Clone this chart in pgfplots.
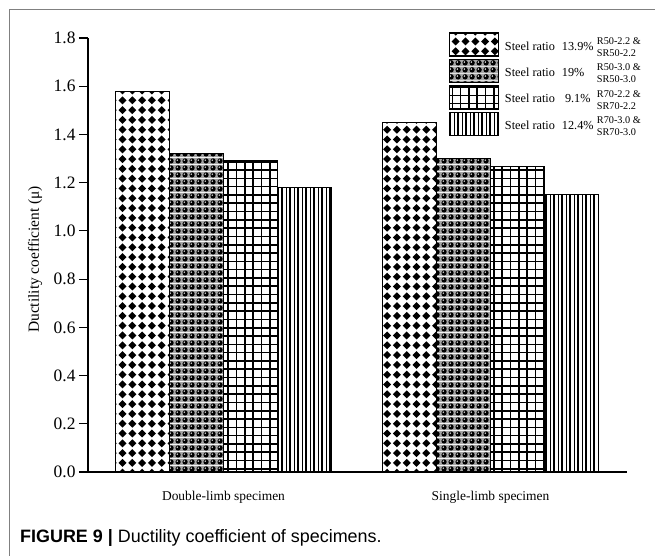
\documentclass[border=0pt]{standalone}
\usepackage{fontspec}
\setmainfont{Liberation Serif}
\newfontfamily\capfont{Liberation Sans}
\usepackage{pgfplots}
\pgfplotsset{compat=1.18}
\usetikzlibrary{patterns}

\pgfdeclarepatternformonly{mydiamonds}{\pgfpoint{-1bp}{-1bp}}{\pgfpoint{10.8bp}{10.8bp}}{\pgfpoint{9.8bp}{9.8bp}}{%
  \pgfpathmoveto{\pgfpoint{4.9bp}{0.9bp}}%
  \pgfpathlineto{\pgfpoint{8.9bp}{4.9bp}}%
  \pgfpathlineto{\pgfpoint{4.9bp}{8.9bp}}%
  \pgfpathlineto{\pgfpoint{0.9bp}{4.9bp}}%
  \pgfpathclose
  \pgfusepath{fill}%
}
\pgfdeclarepatterninherentlycolored{myballs}{\pgfpointorigin}{\pgfpoint{7bp}{7bp}}{\pgfpoint{7bp}{7bp}}{%
  \pgfsetfillcolor{black!35}%
  \pgfpathrectangle{\pgfpointorigin}{\pgfpoint{7bp}{7bp}}%
  \pgfusepath{fill}%
  \pgfsetfillcolor{black}%
  \pgfpathcircle{\pgfpoint{3.5bp}{3.5bp}}{3.0bp}%
  \pgfusepath{fill}%
  \pgfsetfillcolor{white}%
  \pgfpathcircle{\pgfpoint{2.6bp}{4.4bp}}{0.9bp}%
  \pgfusepath{fill}%
}
\pgfdeclarepatternformonly{mygrid}{\pgfpoint{-1bp}{-1bp}}{\pgfpoint{9.3bp}{9.3bp}}{\pgfpoint{8.3bp}{8.3bp}}{%
  \pgfsetlinewidth{1.6bp}%
  \pgfpathmoveto{\pgfpoint{-0.1bp}{4.15bp}}%
  \pgfpathlineto{\pgfpoint{8.4bp}{4.15bp}}%
  \pgfpathmoveto{\pgfpoint{4.15bp}{-0.1bp}}%
  \pgfpathlineto{\pgfpoint{4.15bp}{8.4bp}}%
  \pgfusepath{stroke}%
}
\pgfdeclarepatternformonly{myvlines}{\pgfpoint{-1bp}{-1bp}}{\pgfpoint{9bp}{5bp}}{\pgfpoint{8bp}{4bp}}{%
  \pgfsetlinewidth{1.8bp}%
  \pgfpathmoveto{\pgfpoint{2bp}{-0.1bp}}%
  \pgfpathlineto{\pgfpoint{2bp}{4.1bp}}%
  \pgfusepath{stroke}%
  \pgfsetlinewidth{0.9bp}%
  \pgfpathmoveto{\pgfpoint{6bp}{-0.1bp}}%
  \pgfpathlineto{\pgfpoint{6bp}{4.1bp}}%
  \pgfusepath{stroke}%
}

\newcommand{\legtxt}[3]{\makebox[57bp][l]{Steel ratio}\makebox[35bp][l]{#1}\parbox[c]{48bp}{\fontsize{10.3}{11.8}\selectfont #2\\#3}}

\begin{document}
\begin{tikzpicture}
\useasboundingbox (0,0) rectangle (655bp,556bp);
\draw[black!50, line width=1bp] (9bp,0) -- (9bp,546bp) -- (655bp,546bp);
\begin{axis}[
  at={(88bp,84bp)}, anchor=south west,
  scale only axis, width=539bp, height=434bp,
  xmin=0.4925, xmax=2.5112, ymin=0, ymax=1.8,
  axis lines=left,
  axis line style={-, line width=1.2bp, black},
  ybar=0pt, bar width=54bp,
  xtick={1,2},
  xticklabels={Double-limb specimen, Single-limb specimen},
  x tick style={draw=none},
  xticklabel style={font=\fontsize{13.5}{15}\selectfont, yshift=-7bp},
  ytick={0,0.2,0.4,0.6,0.8,1.0,1.2,1.4,1.6,1.8},
  y tick style={black, line width=1.1bp},
  tick align=outside,
  major tick length=9bp,
  yticklabel style={font=\fontsize{17.5}{19}\selectfont, /pgf/number format/.cd, fixed, fixed zerofill, precision=1},
  /pgf/number format/assume math mode=true,
  ylabel={Ductility coefficient (μ)},
  ylabel style={at={(axis description cs:-0.098,0.49)}, anchor=center, font=\fontsize{15.5}{17}\selectfont},
  every axis plot post/.append style={
    draw=black, line width=1bp,
    legend image code/.code={\draw[##1, line width=1.4bp] (0bp,-11.5bp) rectangle (49bp,11.5bp);}
  },
  legend style={draw=none, fill=none, at={(rel axis cs:0.663,1.018)}, anchor=north west,
    font=\fontsize{12.3}{14}\selectfont, row sep=2bp,
    nodes={inner sep=1bp}, column sep=5bp},
  legend cell align=left,
]
\addplot[pattern=mydiamonds, pattern color=black] coordinates {(1,1.58) (2,1.45)};
\addlegendentry{\legtxt{13.9\%}{R50-2.2 \&}{SR50-2.2}}
\addplot[pattern=myballs] coordinates {(1,1.32) (2,1.30)};
\addlegendentry{\legtxt{19\%}{R50-3.0 \&}{SR50-3.0}}
\addplot[pattern=mygrid, pattern color=black] coordinates {(1,1.29) (2,1.265)};
\addlegendentry{\legtxt{\ 9.1\%}{R70-2.2 \&}{SR70-2.2}}
\addplot[pattern=myvlines, pattern color=black] coordinates {(1,1.18) (2,1.15)};
\addlegendentry{\legtxt{12.4\%}{R70-3.0 \&}{SR70-3.0}}
\end{axis}
\node[anchor=base west, inner sep=0pt] at (20bp,14bp) {\capfont\fontsize{18}{20}\selectfont\textbf{FIGURE 9 |} Ductility coefficient of specimens.};
\end{tikzpicture}
\end{document}
